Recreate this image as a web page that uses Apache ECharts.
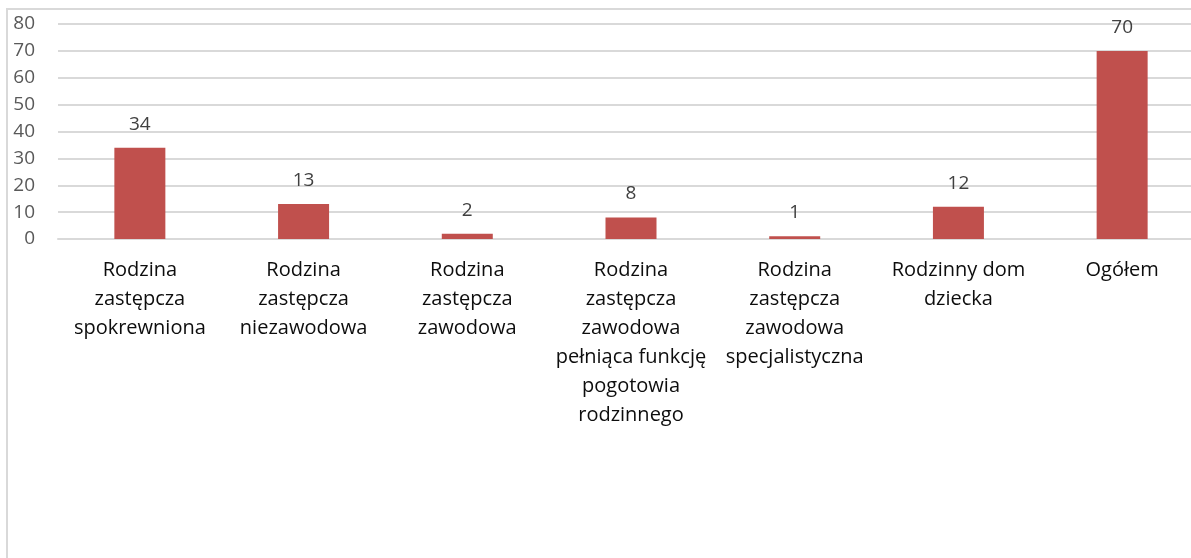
<!DOCTYPE html>
<html>
<head>
<meta charset="utf-8">
<script src="https://cdn.jsdelivr.net/npm/echarts@6/dist/echarts.min.js"></script>
<style>
  html, body { margin: 0; padding: 0; background: #fff; }
  #chart { width: 1191px; height: 558px; }
</style>
</head>
<body>
<div id="chart"></div>
<script>
var categories = [
  "Rodzina\nzastępcza\nspokrewniona",
  "Rodzina\nzastępcza\nniezawodowa",
  "Rodzina\nzastępcza\nzawodowa",
  "Rodzina\nzastępcza\nzawodowa\npełniąca funkcję\npogotowia\nrodzinnego",
  "Rodzina\nzastępcza\nzawodowa\nspecjalistyczna",
  "Rodzinny dom\ndziecka",
  "Ogółem"
];
var values = [34, 13, 2, 8, 1, 12, 70];

var chart = echarts.init(document.getElementById("chart"));
var font = "'Open Sans', 'Liberation Sans', sans-serif";

var option = {
  animation: false,
  textStyle: { fontFamily: font },
  graphic: [
    {
      // ramka wykresu (prawa krawędź ucięta jak w oryginale)
      type: "rect",
      shape: { x: 7, y: 9, width: 1220, height: 560 },
      style: { fill: "none", stroke: "#d9d9d9", lineWidth: 2 },
      silent: true
    }
  ],
  grid: {
    left: 58,
    right: -13,
    top: 24,
    bottom: 319,
    outerBoundsMode: "none"
  },
  xAxis: {
    type: "category",
    data: categories,
    axisTick: { show: false },
    axisLine: { lineStyle: { color: "#d9d9d9", width: 2 } },
    axisLabel: {
      interval: 0,
      margin: 17,
      color: "#0d0d0d",
      fontSize: 20,
      lineHeight: 29,
      fontFamily: font
    }
  },
  yAxis: {
    type: "value",
    min: 0,
    max: 80,
    interval: 10,
    axisLine: { show: false },
    axisTick: { show: false },
    axisLabel: {
      margin: 23,
      color: "#595959",
      fontSize: 19,
      fontFamily: font
    },
    splitLine: { lineStyle: { color: "#d9d9d9", width: 2 } }
  },
  series: [
    {
      type: "bar",
      data: values,
      barWidth: 51,
      itemStyle: { color: "#C0504D" },
      label: {
        show: true,
        position: "top",
        distance: 14,
        color: "#404040",
        fontSize: 19,
        fontFamily: font
      }
    }
  ]
};
chart.setOption(option);
</script>
</body>
</html>
